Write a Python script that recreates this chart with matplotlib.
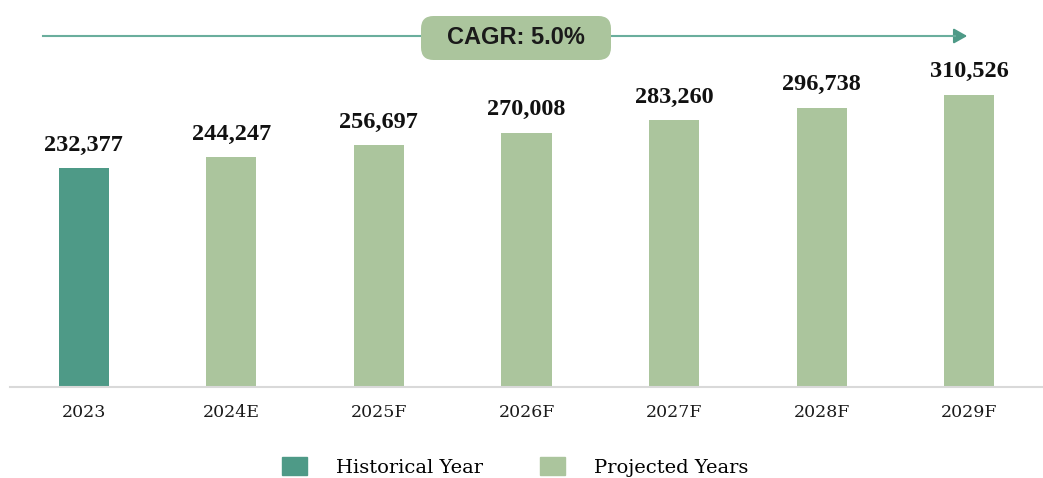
import matplotlib.pyplot as plt
from matplotlib.patches import Patch, FancyBboxPatch

# data
years = ['2023', '2024E', '2025F', '2026F', '2027F', '2028F', '2029F']
values = [232377, 244247, 256697, 270008, 283260, 296738, 310526]
kinds = ['hist', 'proj', 'proj', 'proj', 'proj', 'proj', 'proj']
cagr_text = 'CAGR: 5.0%'

hist_color = '#4E9A87'
proj_color = '#ABC59D'
colors = [hist_color if k == 'hist' else proj_color for k in kinds]

fig = plt.figure(figsize=(10.43, 4.78), dpi=100)
ax = fig.add_axes([10 / 1043, 1 - 387 / 478, 1 - 10 / 1043, 387 / 478])

x = range(len(years))
bars = ax.bar(x, values, width=0.34, color=colors)
ax.set_xlim(-0.5, len(years) - 0.5)
ax.set_ylim(0, 411000)

for rect, v in zip(bars, values):
    ax.annotate(f'{v:,}', (rect.get_x() + rect.get_width() / 2, v),
                xytext=(0, 9), textcoords='offset points', ha='center', va='bottom',
                fontsize=17.5, fontweight='bold', family='Liberation Serif', color='#111111')

ax.set_xticks(list(x))
ax.set_xticklabels(years, family='DejaVu Serif', fontsize=12.5, color='#1a1a1a')
ax.tick_params(axis='x', length=0, pad=12)
ax.set_yticks([])
for s in ['top', 'right', 'left']:
    ax.spines[s].set_visible(False)
ax.spines['bottom'].set_color('#d9d9d9')
ax.spines['bottom'].set_linewidth(1.5)

# CAGR arrow
y_arrow = 1 - 36 / 478
fig.add_artist(plt.Line2D([43 / 1043, 955 / 1043], [y_arrow, y_arrow],
                          color='#6AAE9D', lw=1.5, transform=fig.transFigure, zorder=2))
ax.annotate('', xy=(970 / 1043, y_arrow), xytext=(950 / 1043, y_arrow),
            xycoords='figure fraction', textcoords='figure fraction',
            arrowprops=dict(arrowstyle='-|>,head_length=0.8,head_width=0.45',
                            color='#4E9A87', lw=1.5))
box = FancyBboxPatch((421 / 1043, 1 - 60 / 478), 190 / 1043, 44 / 478,
                     boxstyle='round,pad=0,rounding_size=0.012',
                     transform=fig.transFigure, facecolor=proj_color,
                     edgecolor='none', mutation_aspect=2.2, zorder=5)
fig.add_artist(box)
fig.text(516 / 1043, 1 - 38 / 478, cagr_text, ha='center', va='center', zorder=6,
         fontsize=17, fontweight='bold', family='Liberation Sans', color='#1a1a1a')

handles = [Patch(color=hist_color, label='Historical Year'),
           Patch(color=proj_color, label='Projected Years')]
fig.legend(handles=handles, loc='center', bbox_to_anchor=(515 / 1043, 1 - 467 / 478),
           ncol=2, frameon=False, prop={'family': 'DejaVu Serif', 'size': 14},
           handlelength=1.3, handleheight=1.05, handletextpad=1.5, columnspacing=2.9)

fig.savefig('out.png', dpi=100)
